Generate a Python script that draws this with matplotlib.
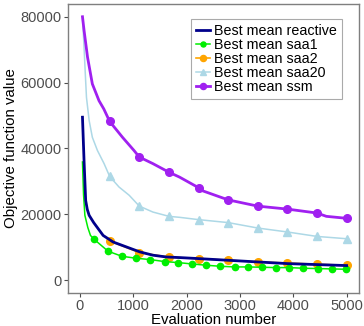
import matplotlib
matplotlib.use('Agg')
import matplotlib.pyplot as plt

plt.rcParams['font.family'] = ['Liberation Sans', 'DejaVu Sans']

# evaluation numbers where the 555-step markers sit
mark_x = [560, 1115, 1670, 2225, 2780, 3335, 3890, 4445, 5000]

reactive_x = [50, 80, 110, 140, 175, 260, 437, 625, 875, 1125, 1370, 1620, 1870, 2225, 2780, 3335, 3890, 4445, 5000]
reactive_y = [49500, 36000, 24200, 21500, 19700, 17500, 13600, 11600, 10100, 8600, 7600, 7060, 6880, 6570, 6060, 5550, 5050, 4750, 4450]

saa1_x = [50, 70, 95, 150, 200, 270, 530, 790, 1060, 1320, 1590, 1840, 2100, 2370, 2630, 2900,
          3150, 3410, 3675, 3925, 4190, 4455, 4720, 4985]
saa1_y = [35900, 26000, 19700, 16000, 13600, 12400, 8800, 7270, 6670, 6270, 5660, 5360, 4950, 4550, 4240, 4040,
          4040, 3940, 3840, 3840, 3640, 3540, 3440, 3330]

saa2_x = mark_x
saa2_y = [11900, 8400, 7000, 6570, 6060, 5550, 5240, 4850, 4550]

saa20_x = [50, 80, 100, 125, 175, 235, 330, 455, 560, 735, 925, 1115, 1370, 1670, 1870, 2225, 2780, 3335, 3890, 4445, 5000]
saa20_y = [80000, 70700, 63600, 55500, 48500, 43400, 39400, 35400, 31500, 28300, 25800, 22500, 20700, 19400, 19100,
           18400, 17500, 15850, 14650, 13300, 12600]

ssm_x = [50, 80, 145, 235, 360, 450, 560, 800, 1015, 1115, 1370, 1670, 1870, 2225, 2310, 2780,
         3335, 3890, 4445, 4620, 5000]
ssm_y = [80000, 75800, 67700, 59600, 54500, 52000, 48200, 43400, 39400, 37400, 35400, 32800, 31300,
         28100, 27100, 24400, 22500, 21600, 20400, 19400, 18800]

x_ticks = [0, 1000, 2000, 3000, 4000, 5000]
y_ticks = [0, 20000, 40000, 60000, 80000]


def marks(xs, keep):
    return [i for i, v in enumerate(xs) if v in keep]


fig = plt.figure(figsize=(3.64, 3.26), dpi=100)
ax = fig.add_axes([0.187, 0.101, 0.799, 0.887])

ax.plot(saa2_x, saa2_y, color='#FFA500', lw=1.2, marker='o', ms=5.5, label='Best mean saa2', zorder=2)
ax.plot(reactive_x, reactive_y, color='#00008B', lw=2.0, label='Best mean reactive', zorder=4)
ax.plot(saa1_x, saa1_y, color='#00EE00', lw=1.1, marker='o', ms=4.5, markevery=list(range(5, len(saa1_x))),
        label='Best mean saa1', zorder=3)
ax.plot(saa20_x, saa20_y, color='#ADD8E6', lw=1.1, marker='^', ms=6, markevery=marks(saa20_x, mark_x),
        label='Best mean saa20', zorder=2)
ax.plot(ssm_x, ssm_y, color='#A020F0', lw=2.0, marker='o', ms=5.5, markevery=marks(ssm_x, mark_x),
        label='Best mean ssm', zorder=3)

ax.set_xlim(-220, 5230)
ax.set_ylim(-3900, 83900)
ax.set_xticks(x_ticks)
ax.set_yticks(y_ticks)
ax.tick_params(colors='#4D4D4D', labelsize=10.5, length=3, width=0.8, pad=1.5)
for s in ax.spines.values():
    s.set_color('#7F7F7F')
    s.set_linewidth(1)

ax.set_xlabel('Evaluation number', fontsize=10.8, labelpad=0)
ax.set_ylabel('Objective function value', fontsize=10.8, labelpad=2)

h, l = ax.get_legend_handles_labels()
order = ['Best mean reactive', 'Best mean saa1', 'Best mean saa2', 'Best mean saa20', 'Best mean ssm']
hd = dict(zip(l, h))
leg = ax.legend([hd[k] for k in order], order, loc='upper right', bbox_to_anchor=(0.942, 0.948),
                fontsize=10.3, handlelength=1.0, handletextpad=0.3, labelspacing=0.0, borderpad=0.35,
                borderaxespad=0, fancybox=False, framealpha=1, markerscale=0.8)
leg.get_frame().set_edgecolor('#AAAAAA')
leg.get_frame().set_linewidth(0.8)

fig.savefig('out.png', dpi=100)
